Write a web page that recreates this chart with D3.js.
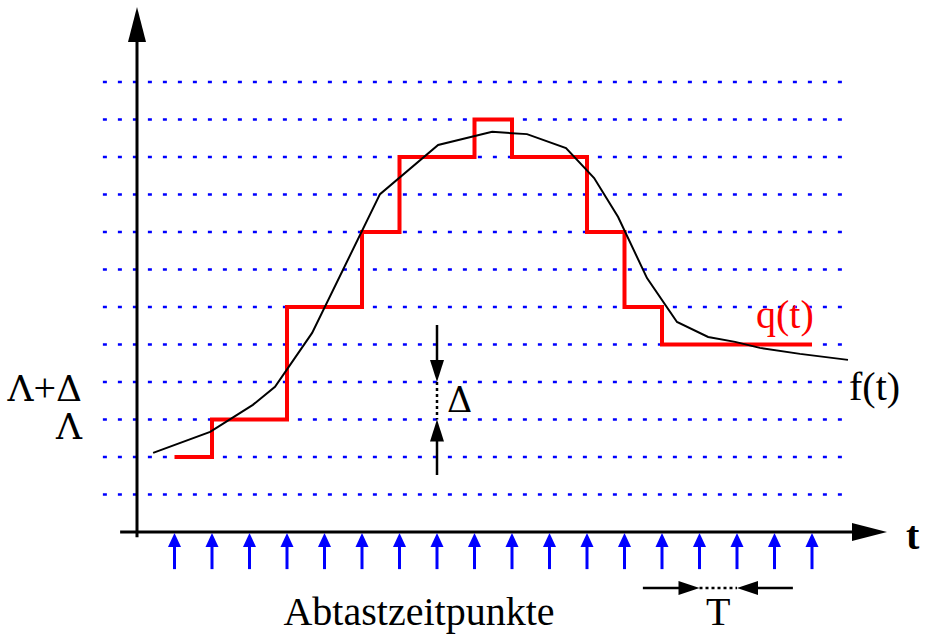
<!DOCTYPE html>
<html>
<head>
<meta charset="utf-8">
<script src="https://cdn.jsdelivr.net/npm/d3@7"></script>
<style>
  body { margin: 0; background: #fff; }
  text { font-family: "Liberation Serif", "Times New Roman", serif; }
  .greek { font-family: "DejaVu Serif", serif; }
</style>
</head>
<body>
<svg id="chart" width="925" height="638"></svg>
<script>
"use strict";

// quantisation levels (dotted lines) and sampling instants
var levels = [0, 1, 2, 3, 4, 5, 6, 7, 8, 9, 10, 11];
var samples = [0, 1, 2, 3, 4, 5, 6, 7, 8, 9, 10, 11, 12, 13, 14, 15, 16, 17];

// q(t): level held from each sample to the next
var qValues = [1, 2, 2, 5, 5, 7, 9, 9, 10, 9, 9, 7, 5, 4, 4, 4, 4, 4];

// f(t), time in sample units, value in levels
var fTimes  = [-0.57, 0.95, 2.09, 2.68, 3.67, 5.48, 7.03, 8.47, 9.40, 10.44, 11.19, 11.83, 12.60, 13.40, 14.23, 14.95, 15.61, 16.68, 17.96];
var fValues = [ 1.11, 1.67, 2.39, 2.87, 4.31, 8.01, 9.32, 9.67, 9.61,  9.24,  8.44,  7.40,  5.77,  4.60,  4.20,  4.07,  3.91,  3.75,  3.59];

// level labels, split in pieces so Greek letters get a font that has them
var levelLabels = [["Λ"], ["Λ", "+", "Δ"]];
var labelLevels = [2, 3];

var svg = d3.select("#chart");
var x = d3.scaleLinear().domain([-1, 19]).range([137, 887]);
var y = d3.scaleLinear().domain([-1, 13]).range([532, 7]);

function head(g, tx, ty, dx, dy, len, w, color) {
  var bx = tx - dx * len, by = ty - dy * len;
  var px = -dy * w / 2, py = dx * w / 2;
  g.append("polygon")
    .attr("points", [[tx, ty], [bx + px, by + py], [bx - px, by - py]].map(function (p) { return p.join(","); }).join(" "))
    .attr("fill", color);
}

function isGreek(s) { return s === "Λ" || s === "Δ"; }

// dotted level lines
svg.append("g").selectAll("line").data(levels).enter().append("line")
    .attr("x1", x(-1.91)).attr("x2", x(17.88))
    .attr("y1", function (d) { return y(d); })
    .attr("y2", function (d) { return y(d); })
    .attr("stroke", "#0000ff")
    .attr("stroke-width", 2.5)
    .attr("stroke-dasharray", "4 11");

// axes
var axes = svg.append("g");
axes.append("line").attr("x1", x(-1)).attr("x2", x(-1)).attr("y1", y(-1.14)).attr("y2", y(12.2))
    .attr("stroke", "#000").attr("stroke-width", 3);
head(axes, x(-1), y(13), 0, -1, 35, 18, "#000");
axes.append("line").attr("x1", x(-1.45)).attr("x2", x(18.2)).attr("y1", y(-1)).attr("y2", y(-1))
    .attr("stroke", "#000").attr("stroke-width", 3);
head(axes, x(19), y(-1), 1, 0, 35, 18, "#000");
axes.append("text").attr("x", 906).attr("y", 549)
    .attr("font-size", 40).attr("font-weight", "bold").text("t");

// sampling arrows
var samp = svg.append("g");
samples.forEach(function (k) {
  samp.append("line").attr("x1", x(k)).attr("x2", x(k)).attr("y1", y(-1.99)).attr("y2", y(-1.3))
      .attr("stroke", "#0000ff").attr("stroke-width", 3);
  head(samp, x(k), y(-1) + 1, 0, -1, 14, 13, "#0000ff");
});

// q(t)
var qLine = d3.line()
    .x(function (d, i) { return x(samples[i]); })
    .y(function (d) { return y(d); })
    .curve(d3.curveStepAfter);
svg.append("path").datum(qValues).attr("d", qLine)
    .attr("fill", "none").attr("stroke", "#ff0000").attr("stroke-width", 4)
    .attr("stroke-linejoin", "miter");

// f(t)
var fLine = d3.line()
    .x(function (d, i) { return x(fTimes[i]); })
    .y(function (d) { return y(d); });
svg.append("path").datum(fValues).attr("d", fLine)
    .attr("fill", "none").attr("stroke", "#000").attr("stroke-width", 2);

// Delta marker between levels 2 and 3 at sample 7
var dm = svg.append("g");
dm.append("line").attr("x1", x(7)).attr("x2", x(7)).attr("y1", y(4.52)).attr("y2", y(3.4))
    .attr("stroke", "#000").attr("stroke-width", 2.5);
head(dm, x(7), y(3), 0, 1, 22, 14, "#000");
dm.append("line").attr("x1", x(7)).attr("x2", x(7)).attr("y1", y(3)).attr("y2", y(2))
    .attr("stroke", "#000").attr("stroke-width", 2.5).attr("stroke-dasharray", "3 3");
head(dm, x(7), y(2), 0, -1, 22, 14, "#000");
dm.append("line").attr("x1", x(7)).attr("x2", x(7)).attr("y1", y(1.6)).attr("y2", y(0.52))
    .attr("stroke", "#000").attr("stroke-width", 2.5);
dm.append("text").attr("class", "greek").attr("x", x(7) + 10).attr("y", 412)
    .attr("font-size", 35).text("Δ");

// T marker between samples 14 and 15
var tm = svg.append("g");
var tY = 588;
tm.append("line").attr("x1", x(12.49)).attr("x2", x(14) - 18).attr("y1", tY).attr("y2", tY)
    .attr("stroke", "#000").attr("stroke-width", 2.5);
head(tm, x(14), tY, 1, 0, 21, 14, "#000");
tm.append("line").attr("x1", x(14)).attr("x2", x(15)).attr("y1", tY).attr("y2", tY)
    .attr("stroke", "#000").attr("stroke-width", 2.5).attr("stroke-dasharray", "3 3");
head(tm, x(15), tY, -1, 0, 21, 14, "#000");
tm.append("line").attr("x1", x(15) + 18).attr("x2", x(16.49)).attr("y1", tY).attr("y2", tY)
    .attr("stroke", "#000").attr("stroke-width", 2.5);
tm.append("text").attr("x", (x(14) + x(15)) / 2).attr("y", 625)
    .attr("text-anchor", "middle").attr("font-size", 40).text("T");

// level labels
var lab = svg.append("g").selectAll("text").data(levelLabels).enter().append("text")
    .attr("x", 82)
    .attr("y", function (d, i) { return y(labelLevels[i]) + 19; })
    .attr("text-anchor", "end").attr("font-size", 40);
lab.selectAll("tspan").data(function (d) { return d; }).enter().append("tspan")
    .attr("class", function (d) { return isGreek(d) ? "greek" : null; })
    .attr("font-size", function (d) { return isGreek(d) ? 36 : 40; })
    .text(function (d) { return d; });

svg.append("text").attr("x", 756).attr("y", 328).attr("font-size", 40)
    .attr("fill", "#ff0000").text("q(t)");
svg.append("text").attr("x", 849).attr("y", 400).attr("font-size", 40).text("f(t)");
svg.append("text").attr("x", 419).attr("y", 625).attr("text-anchor", "middle")
    .attr("font-size", 40).text("Abtastzeitpunkte");
</script>
</body>
</html>
